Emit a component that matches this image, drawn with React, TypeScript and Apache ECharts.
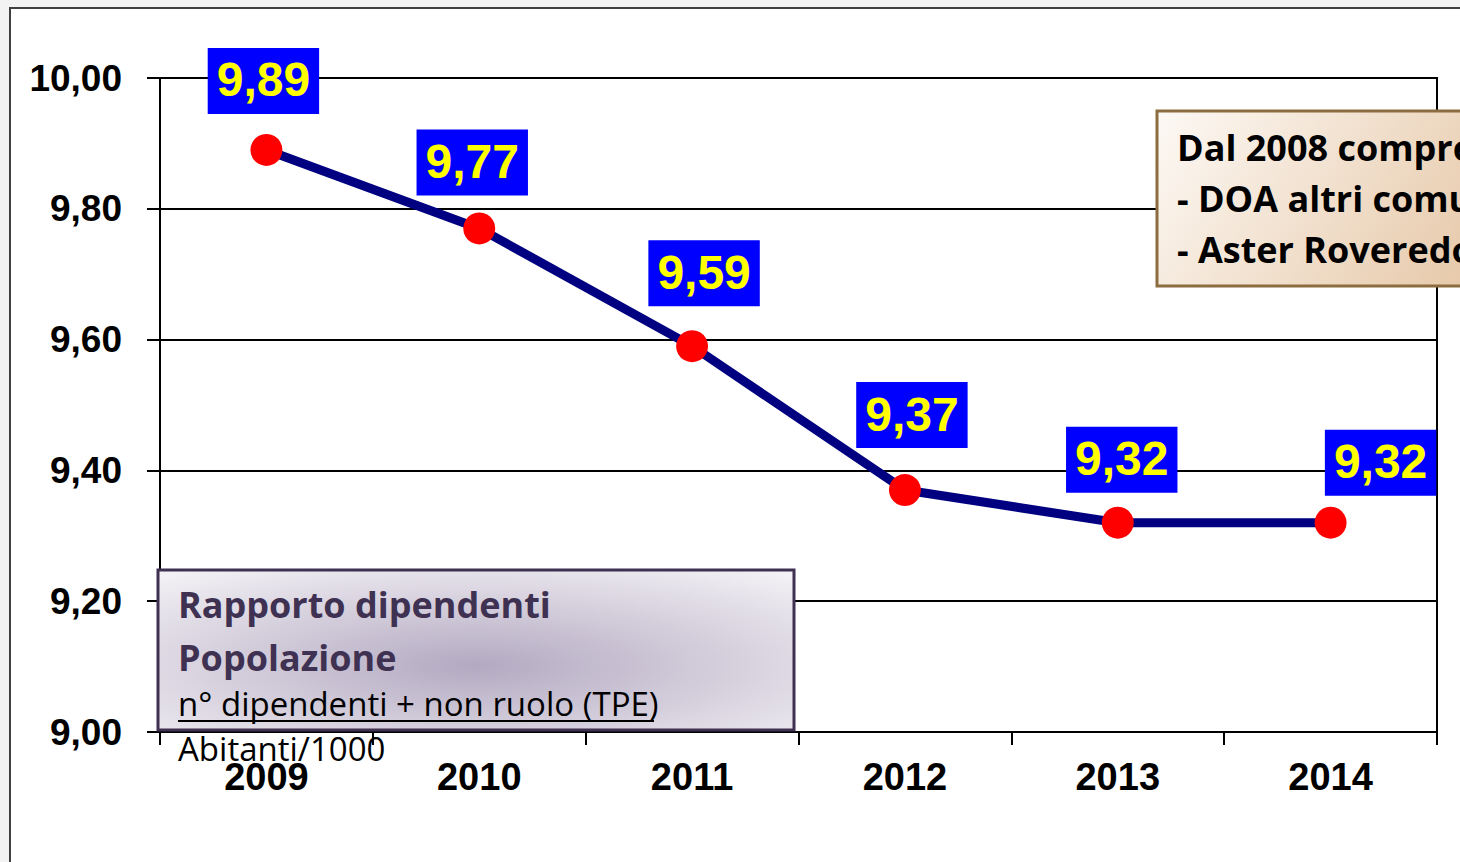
import React, { useEffect, useRef } from "react";
import * as echarts from "echarts";

const years = ["2009", "2010", "2011", "2012", "2013", "2014"];
const ratio = [9.89, 9.77, 9.59, 9.37, 9.32, 9.32];
const yMin = 9.0;
const yMax = 10.0;
const yStep = 0.2;
// label nudges [dx, dy] in px (styling only)
const labelNudge = [
  [-3, -2],
  [-7, 1],
  [12, -6],
  [7, -8],
  [4, 4],
  [50, 7],
];
const noteLeftLines = ["Rapporto dipendenti", "Popolazione"];
const noteLeftFormula = ["n° dipendenti + non ruolo (TPE)", "Abitanti/1000"];
const noteRightLines = ["Dal 2008 comprende:", "- DOA altri comuni", "- Aster Roveredo"];

const fmt = (v: number) => v.toFixed(2).replace(".", ",");

export default function App() {
  const ref = useRef<HTMLDivElement>(null);
  useEffect(() => {
    document.body.style.margin = "0";
    const chart = echarts.init(ref.current!, null, { renderer: "svg" });
    const noteFont = "'Open Sans'";
    chart.setOption({
      animation: false,
      backgroundColor: "#f3f3f3",
      grid: {
        left: 160,
        right: 23,
        top: 78,
        bottom: 130,
        show: true,
        borderColor: "#000",
        borderWidth: 2,
        backgroundColor: "transparent",
      },
      xAxis: {
        type: "category",
        data: years,
        boundaryGap: true,
        axisLine: { lineStyle: { color: "#000", width: 2 } },
        axisTick: { show: true, length: 13, lineStyle: { color: "#000", width: 2 } },
        axisLabel: {
          color: "#000",
          fontFamily: "Liberation Sans, Arial",
          fontWeight: "bold",
          fontSize: 38,
          margin: 26,
        },
      },
      yAxis: {
        type: "value",
        min: yMin,
        max: yMax,
        interval: yStep,
        axisLine: { show: true, lineStyle: { color: "#000", width: 2 } },
        axisTick: { show: true, length: 13, lineStyle: { color: "#000", width: 2 } },
        splitLine: { show: true, lineStyle: { color: "#000", width: 2 } },
        axisLabel: {
          color: "#000",
          fontFamily: "Liberation Sans, Arial",
          fontWeight: "bold",
          fontSize: 37,
          margin: 38,
          formatter: (v: number) => fmt(v),
        },
      },
      series: [
        {
          type: "line",
          data: ratio.map((v, i) => ({
            value: v,
            label: { offset: labelNudge[i] },
          })),
          lineStyle: { color: "#000080", width: 9 },
          symbol: "circle",
          symbolSize: 32,
          itemStyle: { color: "#ff0000" },
          label: {
            show: true,
            position: "top",
            distance: 18,
            formatter: (p: any) => fmt(p.value),
            color: "#ffff00",
            backgroundColor: "#0000ff",
            fontFamily: "Liberation Sans, Arial",
            fontWeight: "bold",
            fontSize: 48,
            lineHeight: 48,
            padding: [8, 9, 10, 9],
          },
          z: 5,
        },
      ],
      graphic: {
        elements: [
          {
            type: "rect",
            z: -10,
            silent: true,
            shape: { x: 10, y: 8, width: 1500, height: 900 },
            style: { fill: "#ffffff", stroke: "#404040", lineWidth: 2 },
          },
          {
            type: "rect",
            z: 100,
            shape: { x: 158, y: 570, width: 636, height: 160 },
            style: {
              fill: new echarts.graphic.RadialGradient(0.5, 0.6, 0.75, [
                { offset: 0, color: "#b3a9c1" },
                { offset: 1, color: "#f3f1f5" },
              ]),
              stroke: "#3f3151",
              lineWidth: 3,
            },
          },
          ...noteLeftLines.map((t, i) => ({
            type: "text",
            z: 101,
            style: {
              text: t,
              x: 178,
              y: 604 + i * 53,
              fill: "#3f3151",
              font: `bold 36px ${noteFont}`,
              verticalAlign: "middle",
              align: "left",
            },
          })),
          ...noteLeftFormula.map((t, i) => ({
            type: "text",
            z: 101,
            style: {
              text: t,
              x: 178,
              y: 703 + i * 45,
              fill: "#000",
              font: `33px ${noteFont}`,
              verticalAlign: "middle",
              align: "left",
            },
          })),
          {
            type: "line",
            z: 101,
            shape: { x1: 178, y1: 721, x2: 654, y2: 721 },
            style: { stroke: "#000", lineWidth: 2 },
          },
          {
            type: "rect",
            z: 100,
            shape: { x: 1157, y: 111, width: 400, height: 175 },
            style: {
              fill: new echarts.graphic.LinearGradient(0, 0, 1, 0.3, [
                { offset: 0, color: "#fdf9f5" },
                { offset: 1, color: "#e6c8a8" },
              ]),
              stroke: "#8c6d3f",
              lineWidth: 3,
            },
          },
          ...noteRightLines.map((t, i) => ({
            type: "text",
            z: 101,
            style: {
              text: t,
              x: 1177,
              y: 147 + i * 51,
              fill: "#000",
              font: `bold 36px ${noteFont}`,
              verticalAlign: "middle",
              align: "left",
            },
          })),
        ],
      },
    });
    return () => chart.dispose();
  }, []);
  return <div ref={ref} style={{ width: 1460, height: 862 }} />;
}
